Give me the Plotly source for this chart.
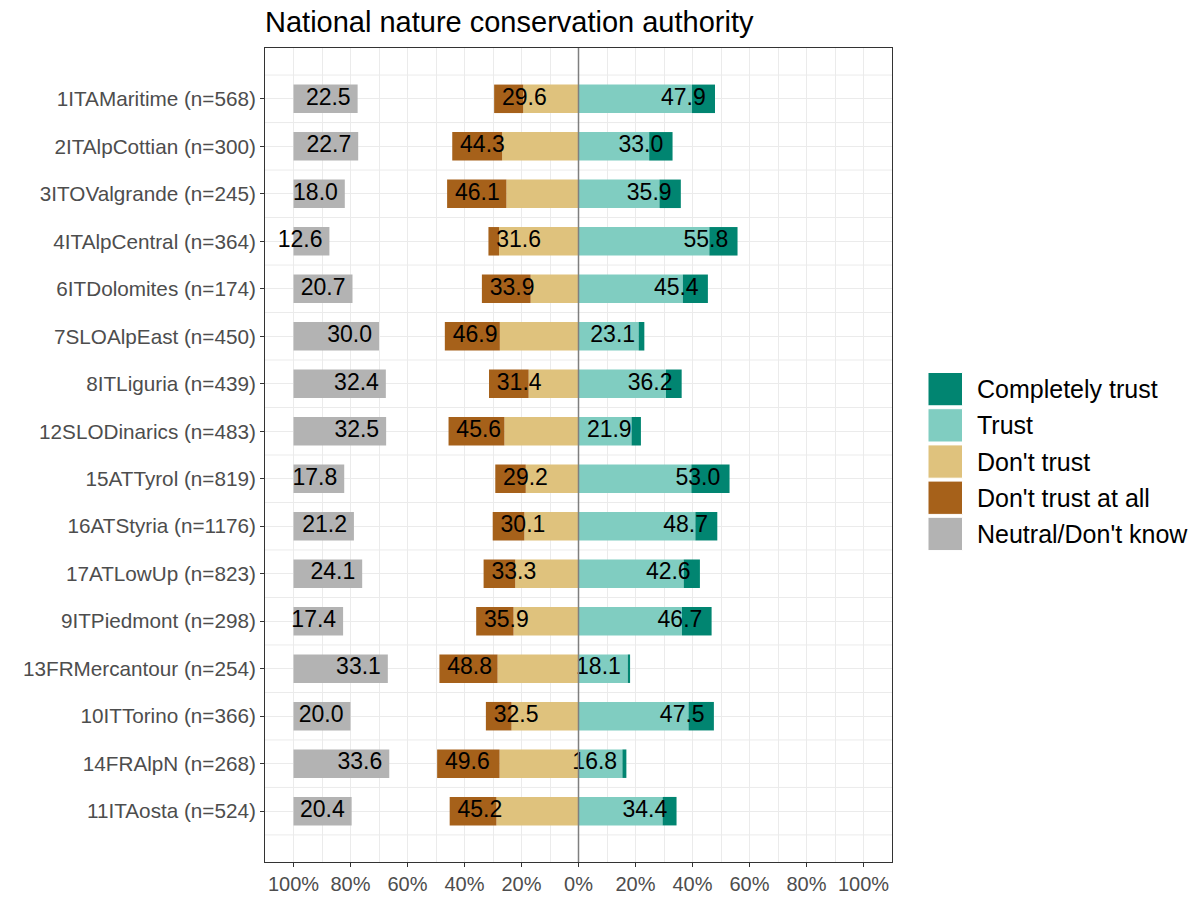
import plotly.graph_objects as go

# Regions (top to bottom) and shares of answers, in percent
regions = [
    "1ITAMaritime (n=568)", "2ITAlpCottian (n=300)", "3ITOValgrande (n=245)",
    "4ITAlpCentral (n=364)", "6ITDolomites (n=174)", "7SLOAlpEast (n=450)",
    "8ITLiguria (n=439)", "12SLODinarics (n=483)", "15ATTyrol (n=819)",
    "16ATStyria (n=1176)", "17ATLowUp (n=823)", "9ITPiedmont (n=298)",
    "13FRMercantour (n=254)", "10ITTorino (n=366)", "14FRAlpN (n=268)",
    "11ITAosta (n=524)",
]
neutral        = [22.5, 22.7, 18.0, 12.6, 20.7, 30.0, 32.4, 32.5, 17.8, 21.2, 24.1, 17.4, 33.1, 20.0, 33.6, 20.4]
dont_trust_all = [10.2, 17.5, 20.8, 3.7, 17.1, 19.3, 13.9, 19.6, 10.7, 11.1, 11.1, 13.1, 20.4, 9.0, 21.9, 16.4]
dont_trust     = [19.4, 26.8, 25.3, 27.9, 16.8, 27.6, 17.5, 26.0, 18.5, 19.0, 22.2, 22.8, 28.4, 23.5, 27.7, 28.8]
trust          = [39.8, 24.8, 28.4, 45.9, 36.6, 21.1, 30.7, 18.6, 39.6, 41.0, 36.9, 36.3, 17.3, 38.6, 15.4, 29.5]
complete_trust = [8.1, 8.2, 7.5, 9.9, 8.8, 2.0, 5.5, 3.3, 13.4, 7.7, 5.7, 10.4, 0.8, 8.9, 1.4, 4.9]

x_ticks = [-100, -80, -60, -40, -20, 0, 20, 40, 60, 80, 100]
x_tick_labels = ["100%", "80%", "60%", "40%", "20%", "0%", "20%", "40%", "60%", "80%", "100%"]

legend_names = ["Completely trust", "Trust", "Don't trust", "Don't trust at all", "Neutral/Don't know"]
colors = {
    "Completely trust": "#018571",
    "Trust": "#80CDC1",
    "Don't trust": "#DFC27D",
    "Don't trust at all": "#A6611A",
    "Neutral/Don't know": "#B3B3B3",
}

FONT = "Liberation Sans, Arial, sans-serif"
neg_total = [round(a + b, 1) for a, b in zip(dont_trust, dont_trust_all)]
pos_total = [round(a + b, 1) for a, b in zip(trust, complete_trust)]

fig = go.Figure()
bar_w = 0.6

def add_bar(name, values, base):
    fig.add_trace(go.Bar(
        y=regions, x=values, base=base, orientation="h", name=name,
        marker=dict(color=colors[name], line=dict(width=0)),
        width=bar_w, showlegend=False, hoverinfo="skip",
    ))

add_bar("Neutral/Don't know", neutral, [-100] * len(regions))
add_bar("Don't trust", [-v for v in dont_trust], [0] * len(regions))
add_bar("Don't trust at all", [-v for v in dont_trust_all], [-v for v in dont_trust])
add_bar("Trust", trust, [0] * len(regions))
add_bar("Completely trust", complete_trust, trust)

# Value labels, set just inside the outer end of each bar
lab_x = ([-100 + v - 10.3 for v in neutral]
         + [-v + 10.6 for v in neg_total]
         + [v - 11.1 for v in pos_total])
lab_y = regions * 3
lab_t = ["%.1f" % v for v in neutral + neg_total + pos_total]
fig.add_trace(go.Scatter(
    x=lab_x, y=lab_y, text=lab_t, mode="text",
    textfont=dict(size=23, color="black", family=FONT),
    showlegend=False, hoverinfo="skip",
))

shapes = []
# horizontal gridlines between rows
for i in range(len(regions) + 1):
    shapes.append(dict(type="line", xref="paper", x0=0, x1=1, yref="y",
                       y0=i - 0.5, y1=i - 0.5, layer="below",
                       line=dict(color="#EBEBEB", width=1)))
# zero line
shapes.append(dict(type="line", xref="x", x0=0, x1=0, yref="paper", y0=0, y1=1,
                   layer="above", line=dict(color="#7F7F7F", width=1.5)))

# legend drawn as keys + labels
L, W, T, H = 265, 627, 48, 814
def px(xp):
    return (xp - L) / W
def py(yp):
    return 1 - (yp - T) / H

annotations = []
for k, name in enumerate(legend_names):
    top = 372.5 + k * 36.2
    shapes.append(dict(type="rect", xref="paper", yref="paper",
                       x0=px(928), x1=px(962.5), y0=py(top), y1=py(top + 33.3),
                       fillcolor=colors[name], line=dict(color="white", width=1)))
    annotations.append(dict(xref="paper", yref="paper", x=px(975), y=py(top + 16.7),
                            xanchor="left", yanchor="middle", text=name, showarrow=False,
                            font=dict(size=25, color="black", family=FONT)))

fig.update_layout(
    width=1197, height=897,
    margin=dict(l=L, r=1197 - L - W, t=T, b=897 - T - H, autoexpand=False),
    paper_bgcolor="white", plot_bgcolor="white",
    barmode="overlay",
    title=dict(text="National nature conservation authority", x=px(265), xanchor="left",
               xref="paper", y=1 - 22 / 897, yref="container", yanchor="middle",
               font=dict(size=29, color="black", family=FONT)),
    xaxis=dict(range=[-110, 110], tickvals=x_ticks, ticktext=x_tick_labels,
               showgrid=True, gridcolor="#EBEBEB", gridwidth=1,
               minor=dict(tickvals=list(range(-110, 111, 10)), showgrid=True,
                          gridcolor="#EBEBEB", gridwidth=1, ticks=""),
               zeroline=False, showline=True, mirror=True, linecolor="#333333", linewidth=1,
               ticks="outside", ticklen=4, tickcolor="#333333", automargin=False,
               tickfont=dict(size=20, color="#4D4D4D", family=FONT)),
    yaxis=dict(type="category", categoryorder="array", categoryarray=regions,
               range=[len(regions) - 1 + 1.07, -1.07],
               showgrid=True, gridcolor="#EBEBEB", gridwidth=1,
               zeroline=False, showline=True, mirror=True, linecolor="#333333", linewidth=1,
               ticks="outside", ticklen=4, tickcolor="#333333", automargin=False,
               tickfont=dict(size=20.7, color="#4D4D4D", family=FONT)),
    shapes=shapes, annotations=annotations, showlegend=False,
)

fig.write_html("out.html")
